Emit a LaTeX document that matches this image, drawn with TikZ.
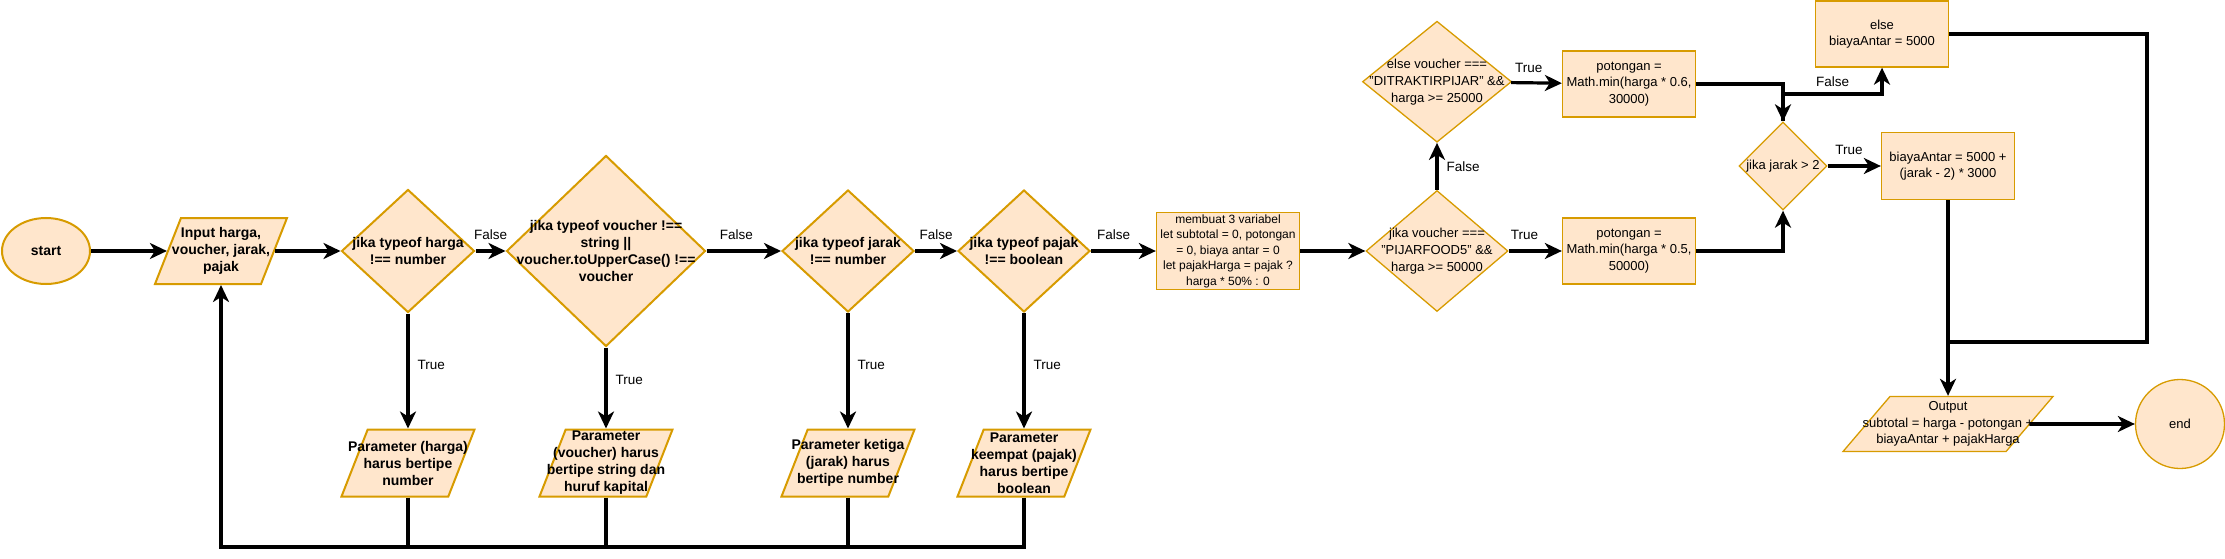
\documentclass[tikz,border=0pt]{standalone}
\usepackage{fontspec}
\setmainfont{Liberation Sans}
\usepackage{tikz}
\usetikzlibrary{positioning,calc,arrows.meta,shapes.geometric}
\usepackage{xcolor}
\definecolor{myfill}{HTML}{FFE6CC}
\definecolor{myline}{HTML}{D79B00}

\begin{document}
\begin{tikzpicture}[x=1pt,y=-1pt,
bold/.style={align=center,font=\fontsize{14}{17}\selectfont\bfseries},
plain/.style={align=center,font=\fontsize{13}{16.5}\selectfont},
lbl/.style={font=\fontsize{13.5}{16}\selectfont,inner sep=2pt},
heavy/.style={draw=myline,fill=myfill,line width=2pt,inner sep=0pt},
light/.style={draw=myline,fill=myfill,line width=1.3pt,inner sep=0pt},
para/.style={trapezium,trapezium left angle=72,trapezium right angle=108,trapezium stretches=true,inner sep=2pt},
flow/.style={line width=3.2pt,-{Stealth[length=17pt,width=16pt,inset=5pt]}},
wire/.style={line width=3.2pt}]

\useasboundingbox (0,0) rectangle (2225,559);

% nodes
\node[heavy,ellipse,minimum width=88pt,minimum height=66pt,bold](start) at (46,251){start};
\node[heavy,para,minimum width=132pt,minimum height=66pt,
      label={[bold]center:Input harga,\\voucher, jarak,\\pajak}](input) at (221,251){};
\node[heavy,diamond,minimum width=133pt,minimum height=123pt,
      label={[bold]center:jika typeof harga\\!== number}](d1) at (408,251){};
\node[heavy,diamond,minimum width=199pt,minimum height=191pt,
      label={[bold]center:jika typeof voucher !==\\string ||\\voucher.toUpperCase() !==\\voucher}](d2) at (606,251){};
\node[heavy,diamond,minimum width=132pt,minimum height=122pt,
      label={[bold]center:jika typeof jarak\\!== number}](d3) at (848,251){};
\node[heavy,diamond,minimum width=132pt,minimum height=122pt,
      label={[bold]center:jika typeof pajak\\!== boolean}](d4) at (1024,251){};

% error outputs
\node[heavy,para,minimum width=133pt,minimum height=67pt,below=115pt of d1,
      label={[bold]center:Parameter (harga)\\harus bertipe\\number}](p1){};
\node[heavy,para,minimum width=133pt,minimum height=67pt,
      label={[bold]center:Parameter\\(voucher) harus\\bertipe string dan\\huruf kapital}](p2) at (d2 |- p1){};
\node[heavy,para,minimum width=133pt,minimum height=67pt,
      label={[bold]center:Parameter ketiga\\(jarak) harus\\bertipe number}](p3) at (d3 |- p1){};
\node[heavy,para,minimum width=133pt,minimum height=67pt,
      label={[bold]center:Parameter\\keempat (pajak)\\harus bertipe\\boolean}](p4) at (d4 |- p1){};

% calculation
\node[light,rectangle,minimum width=143pt,minimum height=77pt,align=center,
      font=\fontsize{12}{15.5}\selectfont](init) at (1228,251)
    {membuat 3 variabel\\let subtotal = 0, potongan\\= 0, biaya antar = 0\\let pajakHarga = pajak ?\\harga * 50\% : 0};
\node[light,diamond,minimum width=142pt,minimum height=121pt,
      label={[plain,font=\fontsize{13}{17}\selectfont]center:jika voucher ===\\"PIJARFOOD5" \&\&\\harga >= 50000}](q1) at (1437,251){};
\node[light,diamond,minimum width=149pt,minimum height=121pt,above=47pt of q1,
      label={[plain,font=\fontsize{13}{17}\selectfont]center:else voucher ===\\"DITRAKTIRPIJAR" \&\&\\harga >= 25000}](q2){};
\node[light,rectangle,minimum width=133pt,minimum height=66pt,plain](pot1) at (1629,84)
    {potongan =\\Math.min(harga * 0.6,\\30000)};
\node[light,rectangle,minimum width=133pt,minimum height=66pt,plain](pot2) at (1629,251)
    {potongan =\\Math.min(harga * 0.5,\\50000)};
\node[light,diamond,minimum width=88pt,minimum height=88pt,
      label={[plain]center:jika jarak > 2}](jarak) at (1783,166){};
\node[light,rectangle,minimum width=133pt,minimum height=67pt,plain](ongkir) at (1948,166)
    {biayaAntar = 5000 +\\(jarak - 2) * 3000};
\node[light,rectangle,minimum width=133pt,minimum height=66pt,plain](else) at (1882,34)
    {else\\biayaAntar = 5000};
\node[light,para,trapezium left angle=68,trapezium right angle=112,minimum width=210pt,minimum height=55pt,
      label={[plain]center:Output\\subtotal = harga - potongan +\\biayaAntar + pajakHarga}](output) at (1948,424){};
\node[light,circle,minimum size=89pt,plain](stop) at (2180,424){end};

% Hidden bends
\coordinate (loop) at (221,547);
\coordinate (fbend) at (1783,94);
\coordinate (rbend) at (2147,342);

% main flow
\draw[flow] (start) -- (input);
\draw[flow] (input) -- (d1);
\draw[flow] (d1) -- node[lbl,above=8pt]{False} (d2);
\draw[flow] (d2) -- node[lbl,above=8pt,pos=0.4]{False} (d3);
\draw[flow] (d3) -- node[lbl,above=8pt]{False} (d4);
\draw[flow] (d4) -- node[lbl,above=8pt,pos=0.35]{False} (init);
\draw[flow] (init) -- (q1);

% errors and loop back
\draw[flow] (d1) -- node[lbl,right=6pt,pos=0.45]{True} (p1);
\draw[flow] (d2) -- node[lbl,right=6pt,pos=0.4]{True} (p2);
\draw[flow] (d3) -- node[lbl,right=6pt,pos=0.45]{True} (p3);
\draw[flow] (d4) -- node[lbl,right=6pt,pos=0.45]{True} (p4);
\draw[wire] (p1.south) -- (p1.south |- loop);
\draw[wire] (p2.south) -- (p2.south |- loop);
\draw[wire] (p3.south) -- (p3.south |- loop);
\draw[flow] (p4.south) |- (loop) -- (input);

% voucher and delivery
\draw[flow] (q1) -- node[lbl,above=8pt,pos=0.3]{True} (pot2);
\draw[flow] (q1) -- node[lbl,right=6pt]{False} (q2);
\draw[flow] (q2) -- node[lbl,above=7pt,pos=0.35]{True} (pot1);
\draw[flow] (pot1) -| (jarak);
\draw[flow] (pot2) -| (jarak);
\draw[flow] (jarak) -- node[lbl,above=8pt,pos=0.4]{True} (ongkir);
\draw[flow] (jarak) -- (fbend) -| node[lbl,pos=0.25,above=4pt]{False} (else);
\draw[wire] (else) -| (rbend) -- (ongkir |- rbend);
\draw[flow] (ongkir) -- (output);
\draw[flow] (output) -- (stop);

\end{tikzpicture}
\end{document}
